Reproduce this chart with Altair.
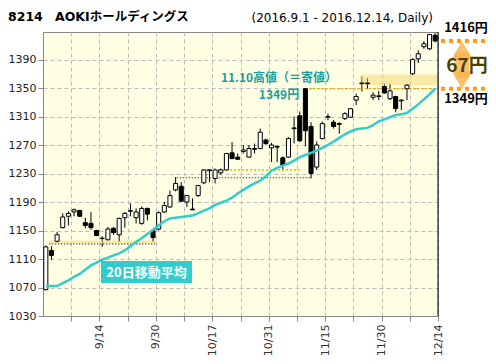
import altair as alt
import pandas as pd

# ---- data ----
opens  = [1067,1122,1135,1154,1170,1176,1178,1161,1160,1150,1139,1137,1153,1144,1168,1177,1168,1160,1181,1150,
          1152,1176,1183,1207,1212,1190,1180,1199,1217,1235,1223,1231,1235,1259,1253,1261,1253,1265,1265,1277,
          1266,1268,1252,1253,1293,1311,1349,1296,1239,1279,1309,1302,1300,1307,1309,1333,1356,1357,1337,1338,
          1352,1335,1338,1332,1349,1370,1391,1408,1405,1424]
highs  = [1129,1128,1148,1174,1177,1181,1179,1168,1176,1151,1142,1155,1155,1168,1176,1188,1181,1184,1182,1151,
          1177,1190,1206,1225,1218,1200,1195,1214,1236,1236,1237,1237,1259,1274,1258,1270,1270,1272,1293,1279,
          1273,1269,1254,1281,1310,1317,1349,1302,1275,1303,1314,1305,1302,1316,1322,1342,1366,1364,1344,1346,
          1356,1356,1339,1334,1356,1392,1403,1416,1426,1427]
lows   = [1066,1109,1133,1153,1157,1170,1169,1153,1151,1142,1127,1136,1144,1134,1154,1170,1160,1158,1164,1134,
          1150,1175,1182,1205,1190,1183,1179,1197,1215,1218,1216,1228,1234,1250,1249,1258,1252,1258,1264,1270,
          1246,1246,1235,1252,1272,1274,1268,1223,1235,1278,1305,1293,1286,1305,1308,1326,1345,1349,1333,1333,
          1342,1333,1316,1319,1333,1368,1385,1405,1403,1414]
closes = [1127,1115,1144,1169,1174,1179,1170,1157,1154,1143,1139,1152,1147,1167,1174,1178,1176,1181,1173,1140,
          1175,1185,1199,1216,1191,1199,1179,1213,1235,1234,1235,1235,1258,1251,1250,1263,1265,1264,1288,1272,
          1270,1267,1242,1279,1294,1276,1290,1230,1270,1300,1310,1296,1299,1314,1321,1338,1357,1356,1340,1339,
          1343,1346,1321,1333,1354,1390,1398,1412,1425,1416]
ma20   = [1072,1072,1072,1076,1080,1085,1089,1095,1101,1105,1109,1112,1115,1118,1122,1128,1134,1139,1145,1151,
          1157,1163,1167,1168,1169,1170,1171,1174,1178,1181,1186,1189,1192,1196,1202,1207,1212,1216,1220,1226,
          1234,1238,1241,1244,1248,1253,1256,1259,1262,1266,1270,1275,1280,1285,1289,1292,1293,1294,1298,1303,
          1306,1309,1312,1313,1315,1321,1327,1334,1341,1349]

tick_days   = [9, 19, 29, 39, 49, 59, 69]
tick_labels = ["9/14", "9/30", "10/17", "10/31", "11/15", "11/30", "12/14"]
y_ticks     = [1030, 1070, 1110, 1150, 1190, 1230, 1270, 1310, 1350, 1390]

# annotation lines / bands (index range, price)
band_x1 = [0.6, 55.7]
band_x2 = [19.6, 69.5]
band_y1 = [1131, 1354]
band_y2 = [1136, 1369]
black_dot_x1 = [0.6, 23.2]
black_dot_x2 = [19.6, 47.0]
black_dot_y  = [1131, 1224]
yellow_dot_x1 = [27.7, 46.0]
yellow_dot_x2 = [45.0, 69.5]
yellow_dot_y  = [1235, 1349]
high_price = 1416
base_price = 1349

df = pd.DataFrame({"i": list(range(len(opens))), "o": opens, "h": highs,
                   "l": lows, "c": closes, "ma": ma20})

W, H = 395, 284
X = alt.Scale(domain=[-0.5, 69.5], nice=False, zero=False)
Y = alt.Scale(domain=[1030, 1428.6], nice=False, zero=False)

grid_vals = [d + 0.5 for d in range(4, 70, 5)]
expr = "''"
for d, lab in reversed(list(zip(tick_days, tick_labels))):
    expr = f"datum.value == {d + 0.5} ? '{lab}' : ({expr})"

x_axis = alt.Axis(values=grid_vals, labelExpr=expr, labelAngle=270, labelAlign="right",
                  labelBaseline="middle", labelPadding=3, tickSize=5, tickColor="#888888",
                  domainColor="#888888", grid=True, gridColor="#BBBBBB", gridDash=[4, 3],
                  title=None, labelFont="DejaVu Sans", labelFontSize=11, labelColor="#333333",
                  labelFlush=False, labelOverlap=False, labelBound=False)
y_axis = alt.Axis(values=y_ticks, format="d", tickSize=5, tickColor="#888888", domainColor="#888888",
                  grid=True, gridColor="#BBBBBB", gridDash=[4, 3], title=None,
                  labelFont="DejaVu Sans", labelFontSize=11, labelColor="#222222", labelPadding=2)


def xq(f):
    return alt.X(f, scale=X, axis=x_axis)


def yq(f):
    return alt.Y(f, scale=Y, axis=y_axis)


base = alt.Chart(df)

wick = base.mark_rule(color="black", strokeWidth=1).encode(
    x=xq("i:Q"), y=yq("l:Q"), y2="h:Q")

body = base.transform_calculate(xa="datum.i - 0.36", xb="datum.i + 0.36").mark_rect(
    stroke="black", strokeWidth=1).encode(
    x=xq("xa:Q"), x2="xb:Q", y=yq("o:Q"), y2="c:Q",
    fill=alt.condition("datum.c >= datum.o", alt.value("white"), alt.value("black")))

ma_line = base.mark_line(color="#33CCCC", strokeWidth=2.5).encode(x=xq("i:Q"), y=yq("ma:Q"))

bands_df = pd.DataFrame({"x1": band_x1, "x2": band_x2, "y1": band_y1, "y2": band_y2})
bands = alt.Chart(bands_df).mark_rect(fill="#F5D56A", opacity=0.5).encode(
    x=xq("x1:Q"), x2="x2:Q", y=yq("y1:Q"), y2="y2:Q")

bdot_df = pd.DataFrame({"x1": black_dot_x1, "x2": black_dot_x2, "y": black_dot_y})
bdots = alt.Chart(bdot_df).mark_rule(color="black", strokeWidth=1, strokeDash=[1, 2]).encode(
    x=xq("x1:Q"), x2="x2:Q", y=yq("y:Q"))

ydot_df = pd.DataFrame({"x1": yellow_dot_x1, "x2": yellow_dot_x2, "y": yellow_dot_y})
ydots = alt.Chart(ydot_df).mark_rule(color="#E0B000", strokeWidth=1.5, strokeDash=[2, 2]).encode(
    x=xq("x1:Q"), x2="x2:Q", y=yq("y:Q"))

one = pd.DataFrame({"a": [0]})
right_edge = alt.Chart(one).mark_rule(color="black", strokeWidth=1).encode(
    x=alt.value(W), y=alt.value(0), y2=alt.value(H))

# right-side annotation
lv_df = pd.DataFrame({"p": [high_price, base_price]})
orange_lines = alt.Chart(lv_df).mark_rule(color="#F5A01E", strokeWidth=4, strokeDash=[4, 4]).encode(
    x=alt.value(W + 3), x2=alt.value(W + 50), y=yq("p:Q"))

arrow_shaft = alt.Chart(one).mark_rect(color="#F8B654", opacity=0.85).encode(
    x=alt.value(W + 17), x2=alt.value(W + 31), y=alt.value(20), y2=alt.value(46))
arrow_up = alt.Chart(one).mark_point(
    shape="triangle-up", filled=True, color="#F8B654", opacity=0.85, size=430).encode(
    x=alt.value(W + 24), y=alt.value(18))
arrow_dn = alt.Chart(one).mark_point(
    shape="triangle-down", filled=True, color="#F8B654", opacity=0.85, size=430).encode(
    x=alt.value(W + 24), y=alt.value(48))

CJK = "Noto Sans CJK JP"


def label(txt, x, y, size=12, color="black", weight="bold", align="center",
          font="DejaVu Sans, Noto Sans CJK JP"):
    return alt.Chart(pd.DataFrame({"t": [txt]})).mark_text(
        fontSize=size, fontWeight=weight, color=color, align=align, baseline="alphabetic",
        font=font).encode(text="t:N", x=alt.value(x), y=alt.value(y))


texts = [
    label("8214", -35, -11, size=12.5, align="left"),
    label("AOKIホールディングス", 12, -11, size=12.5, align="left"),
    label("(2016.9.1 - 2016.12.14, Daily)", 390, -10, size=12, weight="normal", align="right",
          font="DejaVu Sans"),
    label(f"{high_price}円", W + 28, 0, size=13, font=CJK),
    label(f"{base_price}円", W + 28, 71, size=13, font=CJK),
    label(f"{high_price - base_price}円", W + 29, 40, size=19, color="#4A4200", font=CJK),
    label("11.10高値（＝寄値）", 236, 50, size=12, color="#1C9C9C", font=CJK),
    label(f"{base_price}円", 236, 67, size=12, color="#1C9C9C", font=CJK),
]

ma_box = alt.Chart(one).mark_rect(color="#33CCCC").encode(
    x=alt.value(58), x2=alt.value(149), y=alt.value(229), y2=alt.value(251))
ma_text = label("20日移動平均", 103.5, 245, size=13, color="white", font=CJK)

chart = alt.layer(
    wick, bands, bdots, ydots, body, ma_line, right_edge,
    orange_lines, arrow_shaft, arrow_up, arrow_dn, ma_box, ma_text, *texts
).properties(
    width=W, height=H,
    autosize=alt.AutoSizeParams(type="none"),
    padding={"left": 35, "top": 24, "right": 50, "bottom": 40},
).configure_view(fill="#FFFFE4", stroke="#888888", strokeWidth=1)

chart.save("out.html", embed_options={"renderer": "svg", "actions": False})
